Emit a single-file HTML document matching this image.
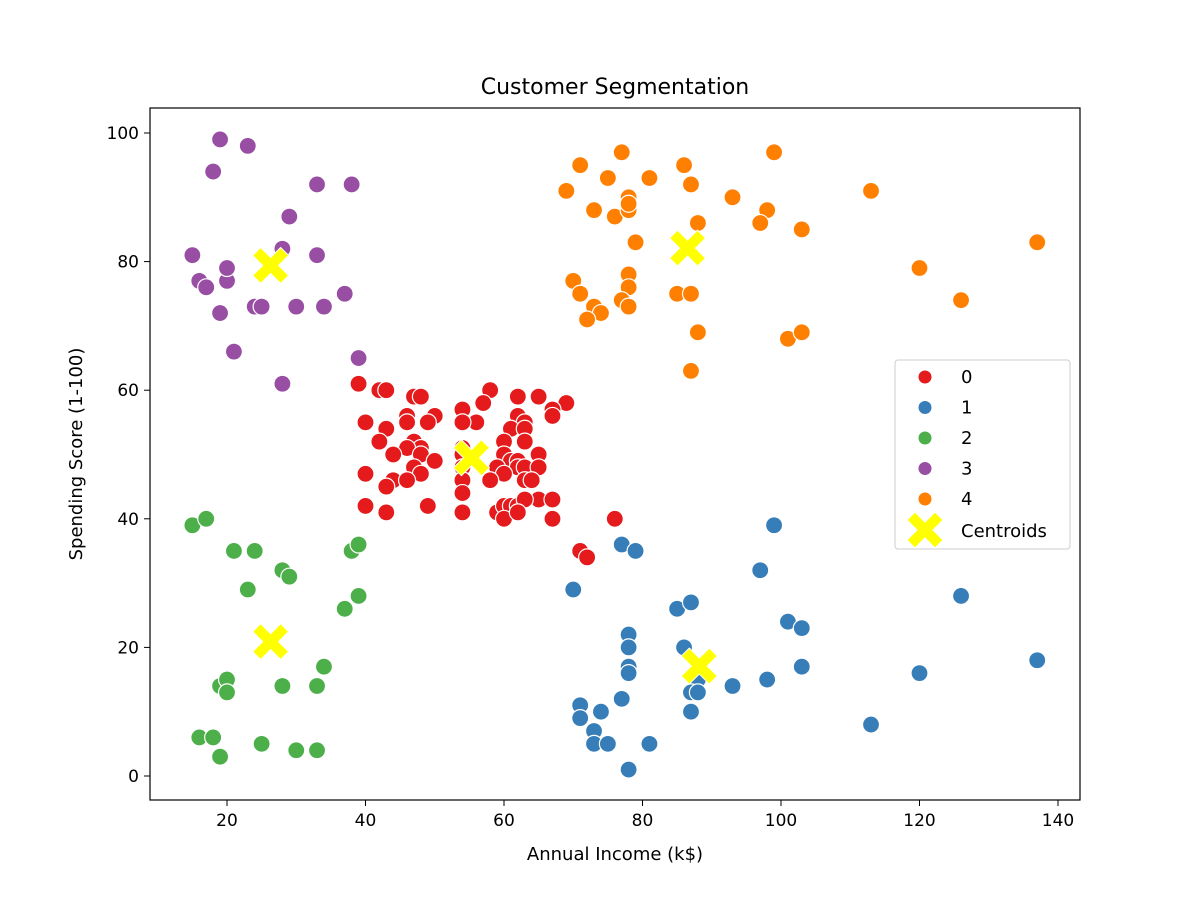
<!DOCTYPE html>
<html><head><meta charset="utf-8"><style>
body{margin:0;background:#fff;}
svg text{font-family:"DejaVu Sans","Liberation Sans",sans-serif;fill:#000;}
</style></head><body>
<svg id="chart" width="1200" height="900" xmlns="http://www.w3.org/2000/svg">
<rect width="1200" height="900" fill="#fff"/>
<text x="615" y="94" font-size="22" text-anchor="middle">Customer Segmentation</text>
<text x="615" y="860" font-size="18" text-anchor="middle">Annual Income (k$)</text>
<text transform="translate(82,454) rotate(-90)" font-size="18" text-anchor="middle">Spending Score (1-100)</text>
<g id="ticks"></g>
<g id="marks"></g>
<rect x="150" y="108" width="930" height="692" fill="none" stroke="#000" stroke-width="1.2"/>
<g id="legend"></g>
</svg>
<script>
const xTicks=[20,40,60,80,100,120,140];
const yTicks=[0,20,40,60,80,100];
const clusterColors=["#e41a1c","#377eb8","#4daf4a","#984ea3","#ff7f00"];
const cluster0=[[58,60],[39,61],[42,60],[43,60],[47,59],[48,59],[62,59],[65,59],[69,58],[57,58],[54,57],[67,57],[67,56],[46,56],[50,56],[62,56],[56,55],[49,55],[40,55],[54,55],[46,55],[63,55],[61,54],[43,54],[63,54],[47,52],[42,52],[48,51],[54,51],[60,52],[63,52],[46,51],[60,50],[44,50],[48,50],[54,50],[65,50],[50,49],[61,49],[62,49],[47,48],[54,48],[59,48],[62,48],[63,48],[65,48],[48,47],[40,47],[60,47],[63,46],[58,46],[44,46],[46,46],[54,46],[64,46],[43,45],[54,44],[65,43],[67,43],[59,41],[60,42],[61,42],[62,42],[63,43],[40,42],[49,42],[43,41],[54,41],[60,40],[67,40],[62,41],[76,40],[71,35],[72,34]];
const cluster1=[[99,39],[77,36],[79,35],[97,32],[70,29],[126,28],[85,26],[87,27],[101,24],[103,23],[78,22],[78,20],[86,20],[137,18],[103,17],[78,17],[78,16],[120,16],[98,15],[88,15],[93,14],[87,13],[88,13],[77,12],[71,11],[71,9],[74,10],[87,10],[113,8],[73,7],[73,5],[75,5],[81,5],[78,1]];
const cluster2=[[15,39],[17,40],[21,35],[24,35],[38,35],[39,36],[28,32],[29,31],[23,29],[39,28],[37,26],[34,17],[19,14],[20,15],[20,13],[28,14],[33,14],[16,6],[18,6],[19,3],[25,5],[30,4],[33,4]];
const cluster3=[[19,99],[23,98],[18,94],[33,92],[38,92],[29,87],[28,82],[33,81],[15,81],[16,77],[20,77],[17,76],[20,79],[37,75],[24,73],[25,73],[30,73],[34,73],[19,72],[21,66],[39,65],[28,61]];
const cluster4=[[71,95],[77,97],[86,95],[99,97],[69,91],[75,93],[81,93],[87,92],[113,91],[73,88],[76,87],[78,90],[78,88],[78,89],[93,90],[98,88],[97,86],[88,86],[103,85],[137,83],[79,83],[120,79],[70,77],[71,75],[78,78],[78,76],[77,74],[78,73],[73,73],[74,72],[72,71],[85,75],[87,75],[126,74],[88,69],[101,68],[103,69],[87,63]];
const centroids=[[26.3,79.4],[55.3,49.5],[26.3,20.9],[86.5,82.1],[88.2,17.1]];
const clusters=[cluster0,cluster1,cluster2,cluster3,cluster4];

const NS="http://www.w3.org/2000/svg";
function sx(v){return 227+(v-20)*(1058-227)/120;}
function sy(v){return 776-v*(776-133)/100;}
function mk(tag,attrs,parent){const e=document.createElementNS(NS,tag);for(const k in attrs)e.setAttribute(k,attrs[k]);parent.appendChild(e);return e;}
const T=document.getElementById('ticks');
xTicks.forEach(v=>{
  const l=mk('line',{x1:sx(v),x2:sx(v),y1:800,y2:806,stroke:'#000'},T);
  
  
  const t=mk('text',{x:sx(v),y:826,'font-size':17,'text-anchor':'middle'},T);t.textContent=v;
  
  
});
yTicks.forEach(v=>{
  const l=mk('line',{x1:144,x2:150,y1:sy(v),y2:sy(v),stroke:'#000'},T);
  
  
  const t=mk('text',{x:139,y:sy(v)+6,'font-size':17,'text-anchor':'end'},T);t.textContent=v;
  
  
});
const M=document.getElementById('marks');
clusters.forEach((pts,ci)=>pts.forEach(p=>{
  const c=mk('circle',{cx:sx(p[0]),cy:sy(p[1]),r:8.5,fill:clusterColors[ci],stroke:'#fff','stroke-width':1.2},M);
  
  
}));
function xMark(cx,cy,s,parent){
  const w=8;
  const d=`M${cx-s},${cy-s+w} L${cx-s+w},${cy-s} L${cx},${cy-w} L${cx+s-w},${cy-s} L${cx+s},${cy-s+w} L${cx+w},${cy} L${cx+s},${cy+s-w} L${cx+s-w},${cy+s} L${cx},${cy+w} L${cx-s+w},${cy+s} L${cx-s},${cy+s-w} L${cx-w},${cy} Z`;
  return mk('path',{d:d,fill:'#ffff00',stroke:'#fff','stroke-width':1},parent);
}
centroids.forEach(p=>{
  const e=xMark(sx(p[0]),sy(p[1]),18,M);
  
  
});
const L=document.getElementById('legend');
const box=mk('rect',{x:895,y:360,width:175,height:189,rx:3,fill:'#fff','fill-opacity':0.8,stroke:'#ccc'},L);


clusterColors.forEach((c,i)=>{
  const y=377+i*30.5;
  const m=mk('circle',{cx:925,cy:y,r:7,fill:c,stroke:'#fff'},L);
  
  
  const t=mk('text',{x:961,y:y+6,'font-size':18},L);t.textContent=String(i);
  
  
});
const cm=xMark(925,530,18,L);


const ct=mk('text',{x:961,y:537,'font-size':18},L);ct.textContent='Centroids';


</script>
</body></html>
